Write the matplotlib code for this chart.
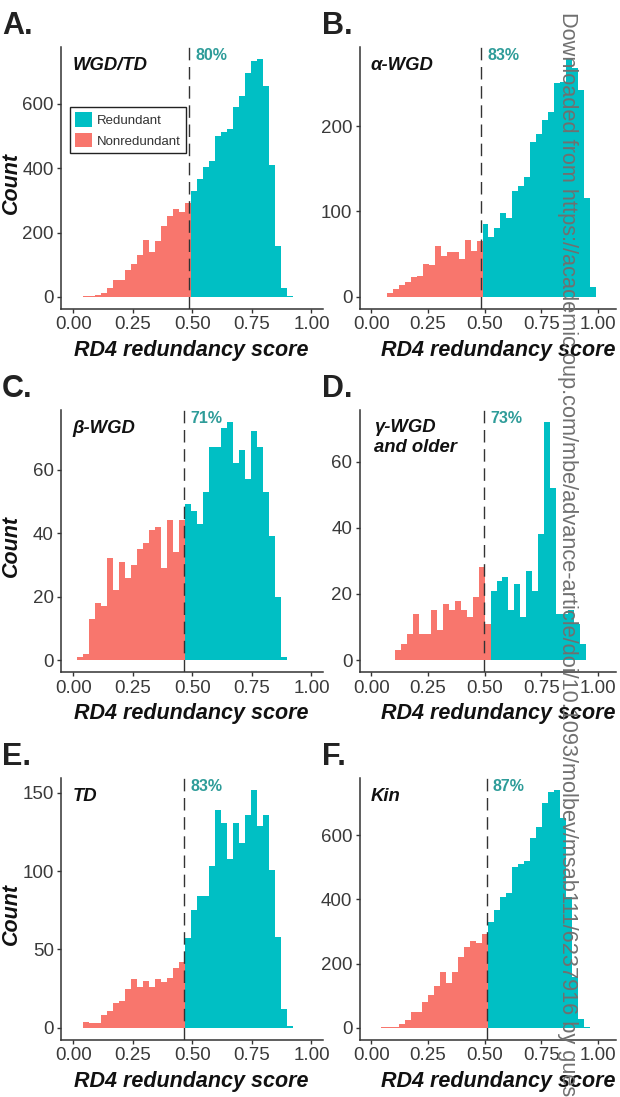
import matplotlib
matplotlib.use("Agg")

import matplotlib.pyplot as plt
import matplotlib.transforms as mtransforms
from matplotlib.ticker import FormatStrFormatter
import numpy as np

plt.rcParams["font.family"] = ["Liberation Sans", "DejaVu Sans"]

# ── data ─────────────────────────────────────────────────────────────────
panel_letters = ["A.", "B.", "C.", "D.", "E.", "F."]
panel_names = ["WGD/TD", "α-WGD", "β-WGD", "γ-WGD\nand older", "TD", "Kin"]
redundant_pct = ["80%", "83%", "71%", "73%", "83%", "87%"]
thresholds = [0.485, 0.486, 0.465, 0.499, 0.465, 0.509]
bin_starts = [0.041, 0.069, 0.014, 0.1045, 0.041, 0.041]
bin_widths = [0.0252, 0.02636, 0.0252, 0.02636, 0.0252, 0.0264]
y_ticks = [[0, 200, 400, 600], [0, 100, 200], [0, 20, 40, 60],
           [0, 20, 40, 60], [0, 50, 100, 150], [0, 200, 400, 600]]
x_ticks = [0.0, 0.25, 0.5, 0.75, 1.0]

# counts per bin, left to right (nonredundant bins first, then redundant)
nonred_A = [1, 3, 5, 13, 26, 53, 53, 82, 102, 130, 177, 138, 174, 220, 251, 273, 263, 292]
redund_A = [329, 367, 405, 421, 500, 512, 521, 589, 626, 697, 733, 741, 655, 409, 158, 28, 3]

nonred_B = [5, 9, 14, 17, 23, 24, 38, 37, 59, 48, 53, 52, 44, 66, 54, 65]
redund_B = [85, 70, 80, 98, 92, 124, 130, 140, 181, 191, 207, 216, 250, 252, 279, 268, 242, 116, 11]

nonred_C = [1, 2, 13, 18, 17, 32, 22, 31, 26, 30, 35, 37, 41, 42, 29, 44, 34, 44]
redund_C = [49, 47, 43, 53, 67, 67, 73, 75, 62, 66, 57, 72, 67, 53, 39, 20, 1]

nonred_D = [3, 5, 8, 14, 8, 8, 15, 9, 17, 15, 18, 15, 13, 19, 28, 11]
redund_D = [21, 24, 25, 15, 23, 13, 27, 21, 38, 72, 52, 14, 14, 15, 11, 5]

nonred_E = [4, 3, 3, 8, 11, 16, 17, 25, 31, 26, 30, 26, 31, 29, 32, 38, 42]
redund_E = [57, 75, 84, 84, 103, 139, 131, 108, 131, 118, 136, 152, 129, 136, 101, 58, 12, 1]

nonred_F = [1, 2, 3, 11, 24, 49, 49, 80, 102, 130, 173, 139, 173, 220, 251, 270, 263, 291]
redund_F = [329, 366, 406, 419, 500, 509, 521, 590, 627, 699, 736, 742, 655, 409, 159, 27, 2]

nonred_counts = [nonred_A, nonred_B, nonred_C, nonred_D, nonred_E, nonred_F]
redund_counts = [redund_A, redund_B, redund_C, redund_D, redund_E, redund_F]

WATERMARK = ("Downloaded from https://academic.oup.com/mbe/advance-article/doi/"
             "10.1093/molbev/msab111/6237916 by guest on")

# ── style ────────────────────────────────────────────────────────────────
RED = "#F8766D"
TEAL = "#00BFC4"
PCT_COLOR = "#2E9C99"
AXIS_COLOR = "#333333"
TICK_LABEL_COLOR = "#3a3a3a"

W, H = 620, 1097
col_left = [61.4, 360.0]
col_width = [262, 256]
col_xlim = [(-0.05, 1.05), (-0.05, 1.08)]
row_top = [46.7, 410.0, 777.7]
letter_x = [2, 321.7]
xlabel_x = [0.495, 0.539]
AX_H = 262

fig = plt.figure(figsize=(W / 100, H / 100), dpi=100)
fig.patch.set_facecolor("white")

for i in range(6):
    r, c = divmod(i, 2)
    ax = fig.add_axes([col_left[c] / W, 1 - (row_top[r] + AX_H) / H,
                       col_width[c] / W, AX_H / H])

    nonred = nonred_counts[i]
    redund = redund_counts[i]
    k = len(nonred)
    edges = bin_starts[i] + bin_widths[i] * np.arange(k + len(redund) + 1)

    st_non = ax.stairs(nonred, edges[:k + 1], fill=True, color=RED, linewidth=0)
    st_red = ax.stairs(redund, edges[k:], fill=True, color=TEAL, linewidth=0)

    ymax = max(max(nonred), max(redund))
    ax.set_ylim(-0.05 * ymax, 1.05 * ymax)
    ax.set_xlim(*col_xlim[c])

    ax.axvline(thresholds[i], color=AXIS_COLOR, lw=1.0, dashes=(9, 4.8), zorder=3)

    # axes styling (ggplot theme_classic look)
    for side in ("top", "right"):
        ax.spines[side].set_visible(False)
    for side in ("left", "bottom"):
        ax.spines[side].set_color(AXIS_COLOR)
        ax.spines[side].set_linewidth(1.1)
    ax.set_xticks(x_ticks)
    ax.set_yticks(y_ticks[i])
    ax.xaxis.set_major_formatter(FormatStrFormatter("%.2f"))
    ax.tick_params(direction="out", length=3, width=1.0, color=AXIS_COLOR,
                   labelsize=13.5, labelcolor=TICK_LABEL_COLOR, pad=2.5)

    ax.set_xlabel("RD4 redundancy score", fontsize=15.5, fontweight="bold",
                  style="italic", color="#111111")
    ax.xaxis.set_label_coords(xlabel_x[c], -0.160)
    ax.xaxis.label.set_va("center")
    if c == 0:
        ax.set_ylabel("Count", fontsize=15.5, fontweight="bold", style="italic",
                      color="#111111")
        ax.yaxis.set_label_coords(-0.192, 0.48)
        ax.yaxis.label.set_va("center")

    # percentage of redundant pairs, next to the threshold line
    trans = mtransforms.blended_transform_factory(ax.transData, ax.transAxes)
    ax.text(thresholds[i] + 0.026, 0.968, redundant_pct[i], transform=trans,
            ha="left", va="center", fontsize=11.5, fontweight="bold", color=PCT_COLOR)

    # category name inside the panel
    if "\n" in panel_names[i]:
        ax.text(0.053, 0.895, panel_names[i], transform=ax.transAxes, ha="left",
                va="center", fontsize=13.3, fontweight="bold", style="italic",
                color="#111111", linespacing=1.2)
    else:
        ax.text(0.042, 0.93, panel_names[i], transform=ax.transAxes, ha="left",
                va="center", fontsize=13.3, fontweight="bold", style="italic",
                color="#111111")

    if i == 0:
        leg = ax.legend(handles=[st_red, st_non], labels=["Redundant", "Nonredundant"],
                        loc="upper left", bbox_to_anchor=(0.033, 0.769),
                        borderaxespad=0, frameon=True, fancybox=False,
                        edgecolor="#222222", framealpha=1, fontsize=9.5,
                        handlelength=1.3, handleheight=1.3, handletextpad=0.35,
                        labelspacing=0.45, borderpad=0.4, labelcolor="#333333")
        leg.get_frame().set_linewidth(1.0)

    fig.text(letter_x[c] / W, 1 - (row_top[r] - 36) / H, panel_letters[i],
             fontsize=22, fontweight="bold", color="#222222", ha="left", va="top")

# journal download stamp running down the right edge
fig.text(567.5 / W, 1 - 12 / H, WATERMARK, rotation=270, ha="center", va="top",
         fontsize=15.7, color="#707070")

plt.savefig("out.png", dpi=100)
plt.close()
